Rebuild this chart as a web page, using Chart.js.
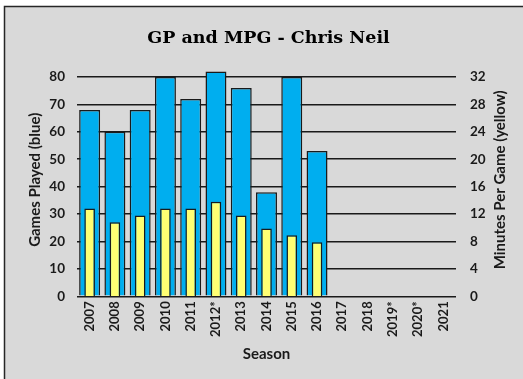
<!DOCTYPE html>
<html>
<head>
<meta charset="utf-8">
<script src="https://cdn.jsdelivr.net/npm/chart.js@4"></script>
<style>
  html, body { margin: 0; padding: 0; background: #ffffff; }
  #wrap { position: absolute; left: 0; top: 0; width: 523px; height: 379px; }
</style>
</head>
<body>
<div id="wrap"><canvas id="chart" width="523" height="379"></canvas></div>
<script>
// Chris Neil, season by season
const seasons = ['2007', '2008', '2009', '2010', '2011', '2012*', '2013', '2014', '2015', '2016',
                 '2017', '2018', '2019*', '2020*', '2021'];
const gamesPlayed = [68, 60, 68, 80, 72, 82, 76, 38, 80, 53, null, null, null, null, null];
const minutesPerGame = [12.8, 10.8, 11.8, 12.8, 12.8, 13.8, 11.8, 9.9, 8.9, 7.9, null, null, null, null, null];
const gpTicks = [0, 10, 20, 30, 40, 50, 60, 70, 80];
const mpgTicks = [0, 4, 8, 12, 16, 20, 24, 28, 32];
const rightTitle = 'Minutes Per Game (yellow)';

// Gray panel with a dark top/left edge behind the whole chart
const panel = {
  id: 'panel',
  beforeDraw(chart) {
    const ctx = chart.ctx;
    ctx.save();
    ctx.fillStyle = '#ffffff';
    ctx.fillRect(0, 0, chart.width, chart.height);
    ctx.fillStyle = '#d9d9d9';
    ctx.fillRect(4, 6, chart.width - 4, chart.height - 6);
    ctx.strokeStyle = '#262626';
    ctx.lineWidth = 1.5;
    ctx.beginPath();
    ctx.moveTo(4.5, chart.height);
    ctx.lineTo(4.5, 6.5);
    ctx.lineTo(chart.width, 6.5);
    ctx.stroke();
    ctx.restore();
  }
};

// Right-hand axis title, reading bottom to top like the left one
const rightAxisTitle = {
  id: 'rightAxisTitle',
  afterDraw(chart) {
    const s = chart.scales.y1;
    const ctx = chart.ctx;
    ctx.save();
    ctx.translate(s.right - 23, (s.top + s.bottom) / 2);
    ctx.rotate(-Math.PI / 2);
    ctx.font = 'bold 15px Lato';
    ctx.fillStyle = '#1a1a1a';
    ctx.textAlign = 'center';
    ctx.textBaseline = 'middle';
    ctx.fillText(rightTitle, 0, 0);
    ctx.restore();
  }
};

function fixSize(prop, value) {
  return function (scale) {
    scale[prop] = value;
    scale.paddingTop = 0; scale.paddingBottom = 0;
    scale.paddingLeft = 0; scale.paddingRight = 0;
  };
}

const tickFont = { family: 'Lato', weight: 'bold', size: 13.5 };
const titleFont = { family: 'Lato', weight: 'bold', size: 15 };

new Chart(document.getElementById('chart'), {
  type: 'bar',
  data: {
    labels: seasons,
    datasets: [
      {
        label: 'Minutes Per Game',
        data: minutesPerGame,
        yAxisID: 'y1',
        backgroundColor: '#ffff73',
        borderColor: '#1a1a1a',
        borderWidth: 1.5,
        grouped: false,
        barPercentage: 0.42,
        categoryPercentage: 1,
        order: 0
      },
      {
        label: 'Games Played',
        data: gamesPlayed,
        yAxisID: 'y',
        backgroundColor: '#00aeef',
        borderColor: '#1a1a1a',
        borderWidth: 1.5,
        grouped: false,
        barPercentage: 0.83,
        categoryPercentage: 1,
        order: 1
      }
    ]
  },
  options: {
    responsive: false,
    animation: false,
    events: [],
    layout: { padding: { left: 14, right: 0, top: 0, bottom: 0 } },
    plugins: {
      legend: { display: false },
      tooltip: { enabled: false },
      title: {
        display: true,
        text: 'GP and MPG - Chris Neil',
        color: '#000000',
        font: { family: 'DejaVu Serif', weight: 'bold', size: 17.5, lineHeight: 1.2 },
        padding: { top: 27.5, bottom: 14.8 }
      }
    },
    scales: {
      x: {
        grid: { display: false, drawTicks: false },
        border: { display: false },
        ticks: {
          color: '#1a1a1a',
          font: { family: 'Lato', weight: 'bold', size: 13 },
          minRotation: 90,
          maxRotation: 90,
          autoSkip: false,
          padding: 5
        },
        title: {
          display: true,
          text: 'Season',
          color: '#1a1a1a',
          font: titleFont,
          padding: { top: 0, bottom: 15.5 }
        },
        afterFit: fixSize('height', 82.7)
      },
      y: {
        position: 'left',
        min: 0,
        max: 85,
        afterBuildTicks(scale) { scale.ticks = gpTicks.map(v => ({ value: v })); },
        ticks: { color: '#1a1a1a', font: tickFont, padding: 12 },
        grid: { color: '#1a1a1a', lineWidth: 1.6, drawTicks: false },
        border: { display: false },
        title: {
          display: true,
          text: 'Games Played (blue)',
          color: '#1a1a1a',
          font: titleFont,
          padding: { top: 12, bottom: 0 }
        },
        afterFit: fixSize('width', 63)
      },
      y1: {
        position: 'right',
        min: 0,
        max: 34,
        afterBuildTicks(scale) { scale.ticks = mpgTicks.map(v => ({ value: v })); },
        ticks: { color: '#1a1a1a', font: tickFont, padding: 14 },
        grid: { display: false, drawTicks: false },
        border: { display: false },
        title: { display: false },
        afterFit: fixSize('width', 67)
      }
    }
  },
  plugins: [panel, rightAxisTitle]
});
</script>
</body>
</html>
